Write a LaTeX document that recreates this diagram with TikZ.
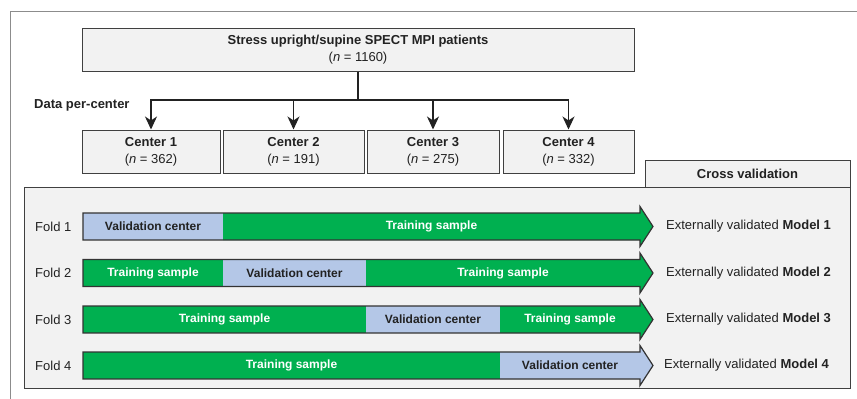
\documentclass[tikz,border=0pt]{standalone}
\usepackage{fontspec}
\setmainfont{Liberation Sans}
\usetikzlibrary{arrows.meta}
\definecolor{boxfill}{HTML}{F2F2F2}
\definecolor{boxline}{HTML}{404040}
\definecolor{traingreen}{HTML}{00B050}
\definecolor{valblue}{HTML}{B4C7E7}
\definecolor{framegray}{HTML}{8C8C8C}
\definecolor{txt}{HTML}{222222}
\begin{document}
\begin{tikzpicture}[x=1pt,y=-1pt,
  box/.style={draw=boxline, fill=boxfill, line width=1pt, inner sep=0pt, align=center, text=txt, font=\fontsize{13}{17}\selectfont},
  lbl/.style={inner sep=0pt, text=txt, font=\fontsize{13}{16}\selectfont},
  segtxt/.style={inner sep=0pt, font=\fontsize{12}{14}\selectfont\bfseries},
  trtxt/.style={segtxt, text=white},
  vatxt/.style={segtxt, text=txt},
  conn/.style={line width=1.3pt, draw=txt},
  tip/.style={-{Stealth[length=13pt,width=12pt,inset=4pt]}},
  arrowline/.style={draw=black!80, line width=1.2pt, line join=miter}
]
\useasboundingbox (0,0) rectangle (857,399);
\draw[framegray, line width=0.8pt] (857,11) -- (10,11) -- (10,399);

% top box
\node[box, minimum width=552pt, minimum height=43pt, font=\fontsize{13}{17}\selectfont] (top) at (358,49.5)
  {\textbf{Stress upright/supine SPECT MPI patients}\\(\textit{n} = 1160)};

% centers
\node[box, minimum width=138pt, minimum height=43pt] (c1) at (151,151.5) {\textbf{Center 1}\\(\textit{n} = 362)};
\node[box, minimum width=141pt, minimum height=43pt] (c2) at (293.5,151.5) {\textbf{Center 2}\\(\textit{n} = 191)};
\node[box, minimum width=132pt, minimum height=43pt] (c3) at (433,151.5) {\textbf{Center 3}\\(\textit{n} = 275)};
\node[box, minimum width=131pt, minimum height=43pt] (c4) at (568.5,151.5) {\textbf{Center 4}\\(\textit{n} = 332)};

\node[lbl, font=\fontsize{13}{16}\selectfont\bfseries, anchor=west] (dpc) at (34,105) {Data per-center};

% connectors
\coordinate (split) at (358,100);
\draw[conn] (top.south) -- (split);
\draw[conn,tip] (split) -| (c1.north);
\draw[conn,tip] (split) -| (c2.north);
\draw[conn,tip] (split) -| (c3.north);
\draw[conn,tip] (split) -| (c4.north);

% cross validation box
\node[box, minimum width=826pt, minimum height=201pt] (cvbox) at (437,287.5) {};
\node[box, minimum width=205pt, minimum height=27pt, font=\fontsize{13}{16}\selectfont\bfseries] (cvtab) at (747.5,173.5) {Cross validation};

% Fold 1
\begin{scope}[shift={(0,226.5)}]
\fill[valblue] (83,-13.5) rectangle (223,13.5);
\fill[traingreen] (223,-13.5) -- (640,-13.5) -- (640,-20) -- (653,0) -- (640,20) -- (640,13.5) -- (223,13.5) -- cycle;
\draw[arrowline] (83,-13.5) -- (640,-13.5) -- (640,-20) -- (653,0) -- (640,20) -- (640,13.5) -- (83,13.5) -- cycle;
\node[vatxt] (f1v) at (153,0) {Validation center};
\node[trtxt] (f1t) at (431.5,0) {Training sample};
\node[lbl, anchor=west] (f1) at (35,0) {Fold 1};
\node[lbl, anchor=west] (m1) at (666,0) {Externally validated \textbf{Model 1}};
\end{scope}

% Fold 2
\begin{scope}[shift={(0,273)}]
\fill[traingreen] (83,-13.5) rectangle (223,13.5);
\fill[valblue] (223,-13.5) rectangle (366,13.5);
\fill[traingreen] (366,-13.5) -- (640,-13.5) -- (640,-20) -- (653,0) -- (640,20) -- (640,13.5) -- (366,13.5) -- cycle;
\draw[arrowline] (83,-13.5) -- (640,-13.5) -- (640,-20) -- (653,0) -- (640,20) -- (640,13.5) -- (83,13.5) -- cycle;
\node[trtxt] (f2t1) at (153,0) {Training sample};
\node[vatxt] (f2v) at (294.5,0) {Validation center};
\node[trtxt] (f2t2) at (503,0) {Training sample};
\node[lbl, anchor=west] (f2) at (35,0) {Fold 2};
\node[lbl, anchor=west] (m2) at (666,0) {Externally validated \textbf{Model 2}};
\end{scope}

% Fold 3
\begin{scope}[shift={(0,319.5)}]
\fill[traingreen] (83,-13.5) rectangle (366,13.5);
\fill[valblue] (366,-13.5) rectangle (500,13.5);
\fill[traingreen] (500,-13.5) -- (640,-13.5) -- (640,-20) -- (653,0) -- (640,20) -- (640,13.5) -- (500,13.5) -- cycle;
\draw[arrowline] (83,-13.5) -- (640,-13.5) -- (640,-20) -- (653,0) -- (640,20) -- (640,13.5) -- (83,13.5) -- cycle;
\node[trtxt] (f3t1) at (224.5,0) {Training sample};
\node[vatxt] (f3v) at (433,0) {Validation center};
\node[trtxt] (f3t2) at (570,0) {Training sample};
\node[lbl, anchor=west] (f3) at (35,0) {Fold 3};
\node[lbl, anchor=west] (m3) at (666,0) {Externally validated \textbf{Model 3}};
\end{scope}

% Fold 4
\begin{scope}[shift={(0,365.5)}]
\fill[traingreen] (83,-13.5) rectangle (500,13.5);
\fill[valblue] (500,-13.5) -- (640,-13.5) -- (640,-20) -- (653,0) -- (640,20) -- (640,13.5) -- (500,13.5) -- cycle;
\draw[arrowline] (83,-13.5) -- (640,-13.5) -- (640,-20) -- (653,0) -- (640,20) -- (640,13.5) -- (83,13.5) -- cycle;
\node[trtxt] (f4t) at (291.5,0) {Training sample};
\node[vatxt] (f4v) at (570,0) {Validation center};
\node[lbl, anchor=west] (f4) at (35,0) {Fold 4};
\node[lbl, anchor=west] (m4) at (664,0) {Externally validated \textbf{Model 4}};
\end{scope}
\end{tikzpicture}
\end{document}
